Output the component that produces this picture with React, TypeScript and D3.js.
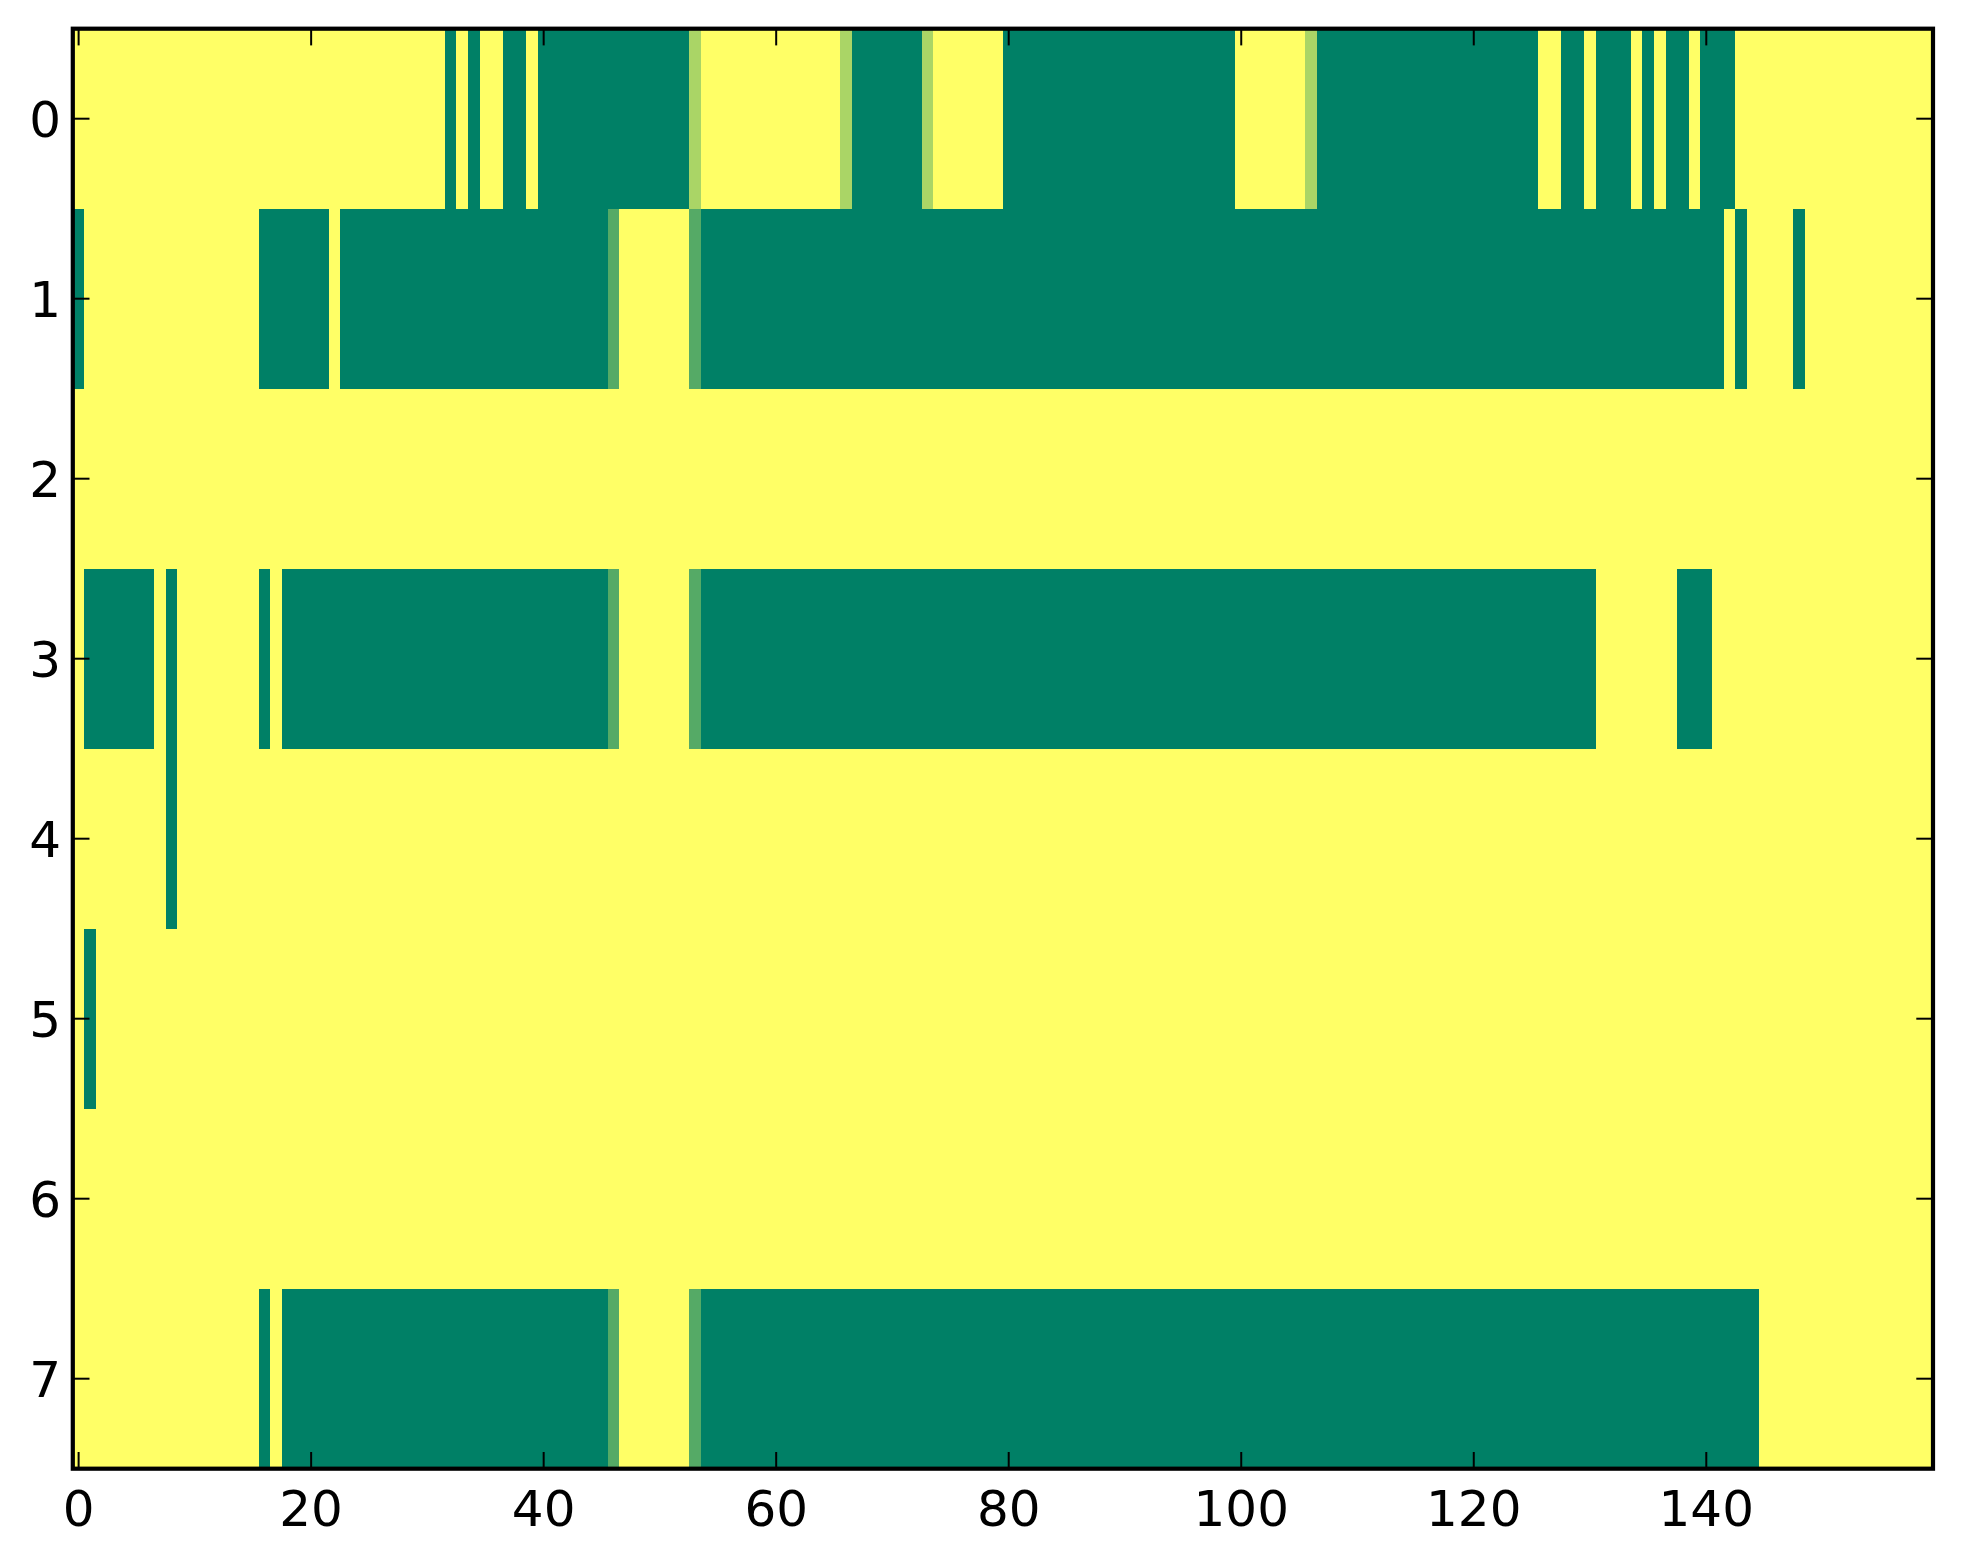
import React from "react";
import * as d3 from "d3";

// Each row: 160 cells, written in groups of ten (cols 0-9, 10-19, ...).
// Digit k means value k/3 (0 = green, 3 = yellow, summer colormap).
const row0 = "3333333333 3333333333 3333333333 3303033003 0000000000 0002333333 3333332000 0002333333 0000000000 0000000000 3333332000 0000000000 0000003300 3000303003 0003333333 3333333333";
const row1 = "0333333333 3333330000 0030000000 0000000000 0000001333 3331000000 0000000000 0000000000 0000000000 0000000000 0000000000 0000000000 0000000000 0000000000 0030333303 3333333333";
const row2 = "3333333333 3333333333 3333333333 3333333333 3333333333 3333333333 3333333333 3333333333 3333333333 3333333333 3333333333 3333333333 3333333333 3333333333 3333333333 3333333333";
const row3 = "3000000303 3333330300 0000000000 0000000000 0000001333 3331000000 0000000000 0000000000 0000000000 0000000000 0000000000 0000000000 0000000000 0333333300 0333333333 3333333333";
const row4 = "3333333303 3333333333 3333333333 3333333333 3333333333 3333333333 3333333333 3333333333 3333333333 3333333333 3333333333 3333333333 3333333333 3333333333 3333333333 3333333333";
const row5 = "3033333333 3333333333 3333333333 3333333333 3333333333 3333333333 3333333333 3333333333 3333333333 3333333333 3333333333 3333333333 3333333333 3333333333 3333333333 3333333333";
const row6 = "3333333333 3333333333 3333333333 3333333333 3333333333 3333333333 3333333333 3333333333 3333333333 3333333333 3333333333 3333333333 3333333333 3333333333 3333333333 3333333333";
const row7 = "3333333333 3333330300 0000000000 0000000000 0000001333 3331000000 0000000000 0000000000 0000000000 0000000000 0000000000 0000000000 0000000000 0000000000 0000033333 3333333333";

const rows = [row0, row1, row2, row3, row4, row5, row6, row7];
const xTicks = [0, 20, 40, 60, 80, 100, 120, 140];
const yTicks = [0, 1, 2, 3, 4, 5, 6, 7];

const W = 1963;
const H = 1564;
const left = 72.8;
const right = 1933;
const top = 28.7;
const bottom = 1468.7;

export default function App() {
  const grid = rows.map((r) => r.replace(/\s+/g, "").split("").map((ch) => +ch / 3));
  const nCols = grid[0].length;
  const nRows = grid.length;
  const x = d3.scaleLinear().domain([-0.5, nCols - 0.5]).range([left, right]);
  const y = d3.scaleLinear().domain([-0.5, nRows - 0.5]).range([top, bottom]);
  const color = d3
    .scaleLinear<string>()
    .domain([0, 1])
    .range(["#008066", "#ffff66"])
    .interpolate(d3.interpolateRgb);

  const tickLen = 16.7;
  const font = "'DejaVu Sans', sans-serif";

  return (
    <svg
      width={W}
      height={H}
      style={{ position: "absolute", left: 0, top: 0, background: "#fff" }}
    >
      <rect x={0} y={0} width={W} height={H} fill="#fff" />
      <g shapeRendering="crispEdges">
        {grid.map((r, ri) =>
          r.map((v, ci) => (
            <rect
              key={`${ri}-${ci}`}
              x={x(ci - 0.5)}
              y={y(ri - 0.5)}
              width={x(ci + 0.5) - x(ci - 0.5) + 0.6}
              height={y(ri + 0.5) - y(ri - 0.5) + 0.6}
              fill={color(v)}
            />
          ))
        )}
      </g>
      {/* ticks */}
      <g stroke="#000" strokeWidth={2}>
        {xTicks.map((t) => (
          <g key={`xt${t}`}>
            <line x1={x(t)} x2={x(t)} y1={bottom} y2={bottom - tickLen} />
            <line x1={x(t)} x2={x(t)} y1={top} y2={top + tickLen} />
          </g>
        ))}
        {yTicks.map((t) => (
          <g key={`yt${t}`}>
            <line x1={left} x2={left + tickLen} y1={y(t)} y2={y(t)} />
            <line x1={right} x2={right - tickLen} y1={y(t)} y2={y(t)} />
          </g>
        ))}
      </g>
      <rect
        x={left}
        y={top}
        width={right - left}
        height={bottom - top}
        fill="none"
        stroke="#000"
        strokeWidth={4.2}
      />
      <g fontFamily={font} fontSize={50} fill="#000">
        {xTicks.map((t) => (
          <text key={`xl${t}`} x={x(t)} y={bottom + 57} textAnchor="middle">
            {t}
          </text>
        ))}
        {yTicks.map((t) => (
          <text key={`yl${t}`} x={61} y={y(t) + 18} textAnchor="end">
            {t}
          </text>
        ))}
      </g>
    </svg>
  );
}
